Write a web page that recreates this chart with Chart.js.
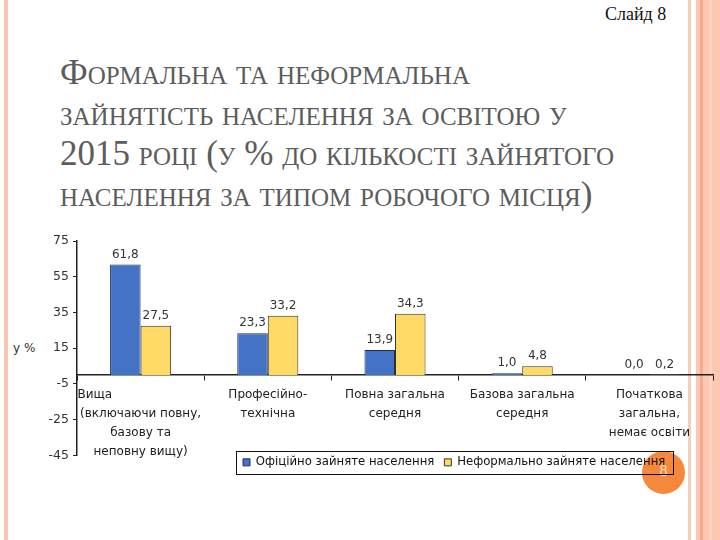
<!DOCTYPE html>
<html>
<head>
<meta charset="utf-8">
<script src="https://cdn.jsdelivr.net/npm/chart.js@4/dist/chart.umd.min.js"></script>
<style>
  html,body{margin:0;padding:0;background:#fff;}
  #page{position:relative;width:720px;height:540px;overflow:hidden;background:#fff;}
  .deco{position:absolute;top:0;height:540px;}
  #title{position:absolute;left:60px;top:53px;width:600px;font-family:"Liberation Serif","DejaVu Serif",serif;
    font-variant:small-caps;font-size:35px;line-height:40.7px;color:#5c5c5c;}
  #slide{position:absolute;left:605px;top:4px;font-family:"Liberation Serif",serif;font-size:18px;color:#111;}
  #ytitle{position:absolute;left:13px;top:341px;font-family:"DejaVu Sans",sans-serif;font-size:12px;color:#333;}
  #circle{position:absolute;left:642px;top:451px;width:43px;height:43px;border-radius:50%;background:#F5883A;}
  #circle span{position:absolute;left:0;width:43px;top:11px;text-align:center;font-family:"Liberation Serif",serif;font-size:16px;color:#fde3cc;}
  #cv{position:absolute;left:0;top:225px;}
</style>
</head>
<body>
<div id="page">
  <div class="deco" style="left:4px;width:4px;background:#f9c6b2;"></div>
  <div class="deco" style="left:688px;width:3px;background:#f7cdbb;"></div>
  <div class="deco" style="left:696px;width:24px;background:#fcc8b2;"></div>
  <div class="deco" style="left:700px;width:3px;background:#f5ab8e;"></div>
  <div class="deco" style="left:709px;width:3px;background:#fdd4c3;"></div>
  <div id="slide">Слайд 8</div>
  <div id="title">Формальна та неформальна<br>зайнятість населення за освітою у<br>2015 році (у % до кількості зайнятого<br>населення за типом робочого місця)</div>
  <div id="ytitle">у %</div>
  <div id="circle"><span>8</span></div>
  <canvas id="cv" width="720" height="270"></canvas>
</div>
<script>
const categories = [
  ["Вища" + "\u00a0".repeat(24), "(включаючи повну,", "базову та", "неповну вищу)"],
  ["Професійно-", "технічна"],
  ["Повна загальна", "середня"],
  ["Базова загальна", "середня"],
  ["Початкова", "загальна,", "немає освіти"]
];
const seriesNames = ["Офіційно зайняте населення", "Неформально зайняте населення"];
const officialValues = [61.8, 23.3, 13.9, 1.0, 0.0];
const informalValues = [27.5, 33.2, 34.3, 4.8, 0.2];
const yMin = -45, yMax = 75, yStep = 20;

const FONT = "'DejaVu Sans', sans-serif";

const valueLabels = {
  id: 'valueLabels',
  afterDatasetsDraw(chart) {
    const ctx = chart.ctx;
    ctx.save();
    ctx.font = "12px " + FONT;
    ctx.fillStyle = "#333";
    ctx.textAlign = "center";
    ctx.textBaseline = "bottom";
    chart.data.datasets.forEach((ds, di) => {
      chart.getDatasetMeta(di).data.forEach((bar, i) => {
        const txt = ds.data[i].toFixed(1).replace('.', ',');
        ctx.fillText(txt, bar.x, bar.y - 4);
      });
    });
    ctx.restore();
  }
};

const BOX = { left: 236, top: 451 - 225, width: 437, height: 23 };

const legendMover = {
  id: 'legendMover',
  beforeDraw(chart) {
    const lg = chart.legend;
    lg.left = BOX.left - 3; lg.right = 720; lg.width = lg.right - lg.left;
    lg.top = BOX.top - 4.5; lg.bottom = lg.top + 32;
  },
  afterDraw(chart) {
    const ctx = chart.ctx;
    ctx.save();
    ctx.strokeStyle = "#111";
    ctx.lineWidth = 1;
    ctx.strokeRect(BOX.left + 0.5, BOX.top + 0.5, BOX.width, BOX.height);
    ctx.restore();
  }
};

new Chart(document.getElementById('cv'), {
  type: 'bar',
  data: {
    labels: categories,
    datasets: [
      { label: seriesNames[0], data: officialValues, backgroundColor: '#4472C4', borderColor: '#1f2f5c', borderWidth: 1 },
      { label: seriesNames[1], data: informalValues, backgroundColor: '#FFD966', borderColor: '#3a3320', borderWidth: 1 }
    ]
  },
  plugins: [valueLabels, legendMover],
  options: {
    responsive: false,
    animation: false,
    layout: { padding: { top: 16, right: 7, bottom: 8, left: 0 } },
    datasets: { bar: { categoryPercentage: 0.48, barPercentage: 1.0 } },
    plugins: {
      legend: {
        position: 'bottom',
        align: 'start',
        labels: { boxWidth: 7, boxHeight: 7, padding: 10, color: '#111', font: { family: FONT, size: 11.7 } }
      },
      tooltip: { enabled: false }
    },
    scales: {
      x: {
        position: { y: 0 },
        grid: { drawOnChartArea: false, tickLength: 5, color: '#222', lineWidth: 1 },
        border: { color: '#222', width: 1.5 },
        ticks: { color: '#222', maxRotation: 0, autoSkip: false, padding: 5,
          font: { family: FONT, size: 12, lineHeight: 1.6 } }
      },
      y: {
        min: yMin, max: yMax,
        afterFit(scale) { scale.width = 77; },
        grid: { drawOnChartArea: false, tickLength: 4, color: '#222' },
        border: { color: '#222', width: 1.5 },
        ticks: { stepSize: yStep, color: '#333', padding: 4, font: { family: FONT, size: 12.5 } }
      }
    }
  }
});
</script>
</body>
</html>
